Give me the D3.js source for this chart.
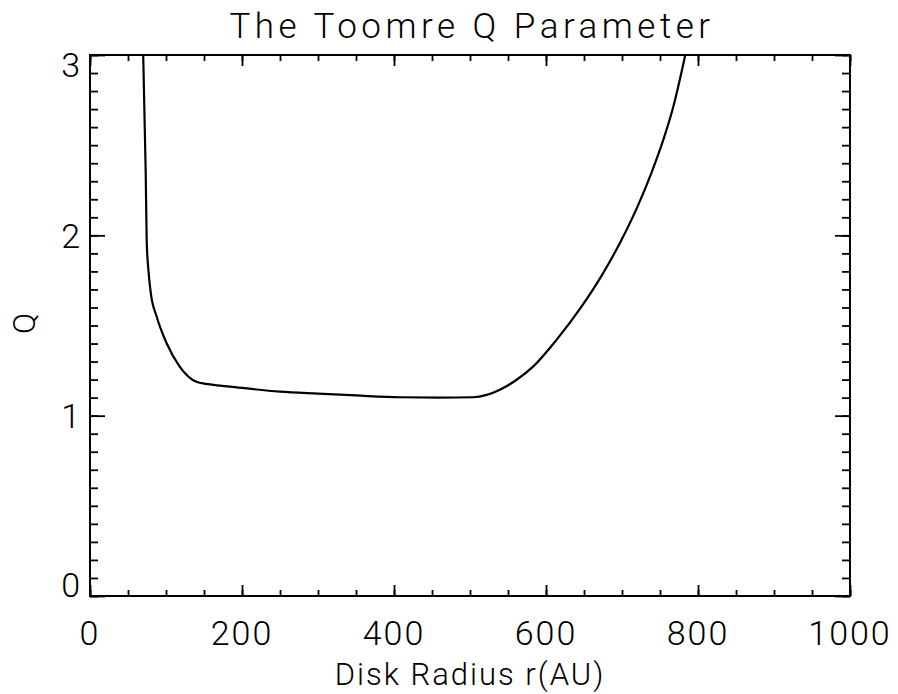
<!DOCTYPE html>
<html>
<head>
<meta charset="utf-8">
<script src="https://cdn.jsdelivr.net/npm/d3@7/dist/d3.min.js"></script>
<style>
  html, body { margin: 0; padding: 0; background: #fff; }
  svg { display: block; }
  text { font-family: Roboto, "DejaVu Sans", sans-serif; font-weight: 300; fill: #000; }
</style>
</head>
<body>
<svg id="chart" width="898" height="694"></svg>
<script>
// ---- data ----
const radius = [70, 73.3, 74.6, 77, 80, 87.7, 101, 118, 140, 160, 184, 250, 300, 350, 408, 460, 504, 522, 540, 560, 583, 613.8, 646.7, 675, 699.3, 720.4, 738.5, 754.3, 767.5, 783];
const qValues = [3.0, 2.35, 1.97, 1.80, 1.68, 1.55, 1.40, 1.272, 1.188, 1.172, 1.161, 1.133, 1.122, 1.112, 1.102, 1.100, 1.102, 1.115, 1.145, 1.195, 1.272, 1.42, 1.604, 1.789, 1.974, 2.159, 2.344, 2.529, 2.713, 2.995];
const xMajorTicks = [0, 200, 400, 600, 800, 1000];
const xMinorTicks = d3.range(0, 1001, 50);
const yMajorTicks = [0, 1, 2, 3];
const yMinorTicks = d3.range(0, 31, 1).map(v => v / 10);
const titleText = "The Toomre Q Parameter";
const xLabel = "Disk Radius r(AU)";
const yLabel = "Q";

// ---- layout ----
const svg = d3.select("#chart");
const L = 90, R = 850, T = 55, B = 596;
const x = d3.scaleLinear().domain([0, 1000]).range([L, R]);
const y = d3.scaleLinear().domain([0, 3]).range([B, T]);

const ink = "#000";
const tickW = 1.8;

function styleAxis(g) {
  g.select(".domain").remove();
  g.selectAll(".tick line").attr("stroke", ink).attr("stroke-width", tickW);
  g.selectAll(".tick text").remove();
}
svg.append("g").attr("transform", `translate(0,${B})`)
  .call(d3.axisBottom(x).tickValues(xMinorTicks).tickSize(-6)).call(styleAxis);
svg.append("g").attr("transform", `translate(0,${B})`)
  .call(d3.axisBottom(x).tickValues(xMajorTicks).tickSize(-11)).call(styleAxis);
svg.append("g").attr("transform", `translate(0,${T})`)
  .call(d3.axisTop(x).tickValues(xMinorTicks).tickSize(-6)).call(styleAxis);
svg.append("g").attr("transform", `translate(0,${T})`)
  .call(d3.axisTop(x).tickValues(xMajorTicks).tickSize(-11)).call(styleAxis);
svg.append("g").attr("transform", `translate(${L},0)`)
  .call(d3.axisLeft(y).tickValues(yMinorTicks).tickSize(-8)).call(styleAxis);
svg.append("g").attr("transform", `translate(${L},0)`)
  .call(d3.axisLeft(y).tickValues(yMajorTicks).tickSize(-15)).call(styleAxis);
svg.append("g").attr("transform", `translate(${R},0)`)
  .call(d3.axisRight(y).tickValues(yMinorTicks).tickSize(-8)).call(styleAxis);
svg.append("g").attr("transform", `translate(${R},0)`)
  .call(d3.axisRight(y).tickValues(yMajorTicks).tickSize(-15)).call(styleAxis);

// frame
svg.append("rect").attr("x", L).attr("y", T).attr("width", R - L).attr("height", B - T)
  .attr("fill", "none").attr("stroke", ink).attr("stroke-width", 2);

// tick labels
svg.append("g").selectAll("text").data(xMajorTicks).join("text")
  .attr("x", d => x(d)).attr("y", 645)
  .attr("text-anchor", "middle").attr("font-size", 34)
  .attr("letter-spacing", 2)
  .text(d => d);

const yLabelShift = d => d === 3 ? 10 : (d === 0 ? -11 : 0);
svg.append("g").selectAll("text").data(yMajorTicks).join("text")
  .attr("x", L - 10).attr("y", d => y(d) + yLabelShift(d))
  .attr("dy", "0.36em")
  .attr("text-anchor", "end").attr("font-size", 34)
  .text(d => d);

// titles
svg.append("text").attr("x", (L + R) / 2 + 2).attr("y", 38)
  .attr("text-anchor", "middle").attr("font-size", 35)
  .attr("letter-spacing", 4.5).text(titleText);
svg.append("text").attr("x", (L + R) / 2).attr("y", 685)
  .attr("text-anchor", "middle").attr("font-size", 31)
  .attr("letter-spacing", 2).text(xLabel);
svg.append("text").attr("transform", `translate(35,${(T + B) / 2 - 2}) rotate(-90)`)
  .attr("text-anchor", "middle").attr("font-size", 31).text(yLabel);

// curve
svg.append("clipPath").attr("id", "clip").append("rect")
  .attr("x", L).attr("y", T).attr("width", R - L).attr("height", B - T);
const pts = radius.map((r, i) => [r, qValues[i]]);
const line = d3.line().x(d => x(d[0])).y(d => y(d[1])).curve(d3.curveMonotoneX);
svg.append("path").datum(pts).attr("d", line)
  .attr("clip-path", "url(#clip)")
  .attr("fill", "none").attr("stroke", ink).attr("stroke-width", 2.2)
  .attr("stroke-linejoin", "round");
</script>
</body>
</html>
